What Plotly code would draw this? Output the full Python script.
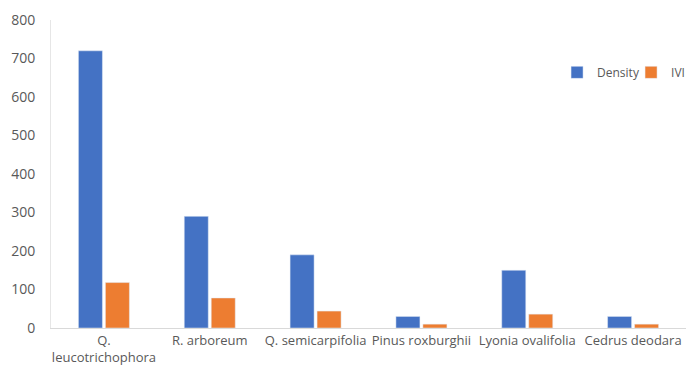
import plotly.graph_objects as go

species = ["Q.<br>leucotrichophora", "R. arboreum", "Q. semicarpifolia",
           "Pinus roxburghii", "Lyonia ovalifolia", "Cedrus deodara"]
density = [720, 290, 190, 30, 150, 30]
ivi = [118, 78, 44, 10, 36, 10]
y_ticks = [0, 100, 200, 300, 400, 500, 600, 700, 800]

fig = go.Figure()
fig.add_trace(go.Bar(x=species, y=density, name="Density", marker_color="#4472C4"))
fig.add_trace(go.Bar(x=species, y=ivi, name="IVI", marker_color="#ED7D31"))

font_family = "Open Sans, Liberation Sans, sans-serif"
fig.update_layout(
    width=687, height=370,
    margin=dict(l=51, r=1, t=20, b=42, autoexpand=False),
    paper_bgcolor="white", plot_bgcolor="white",
    barmode="group", bargap=0.49, bargroupgap=0.11,
    font=dict(family=font_family, color="#595959", size=13),
    showlegend=True,
    legend=dict(orientation="h", x=1.03, y=0.83, xanchor="right", yanchor="middle",
                font=dict(size=12, color="#595959"), itemwidth=30,
                entrywidth=29, entrywidthmode="pixels",
                tracegroupgap=0, bgcolor="rgba(0,0,0,0)"),
    xaxis=dict(showline=True, linecolor="#D9D9D9", linewidth=1, ticks="",
               tickangle=0, automargin=False, showgrid=False,
               tickfont=dict(size=13, color="#595959")),
    yaxis=dict(range=[0, 800], tickvals=y_ticks, showgrid=False, zeroline=False,
               showline=True, linecolor="#E6E6E6", linewidth=1, ticks="",
               automargin=False, ticklabelstandoff=12,
               tickfont=dict(size=14, color="#595959")),
)

fig.write_html("out.html")
